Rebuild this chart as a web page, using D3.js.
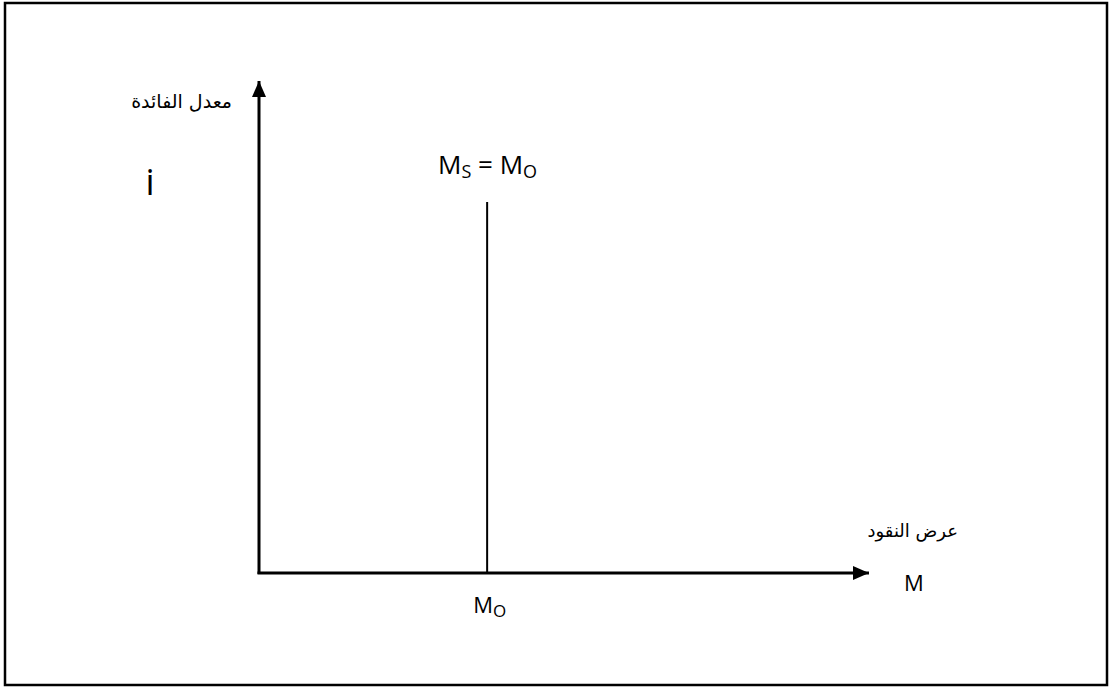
<!DOCTYPE html>
<html>
<head>
<meta charset="utf-8">
<script src="https://cdn.jsdelivr.net/npm/d3@7"></script>
<style>
  body { margin: 0; background: #fff; }
  svg { display: block; }
</style>
</head>
<body>
<svg id="chart" width="1109" height="687"></svg>
<script>
// axis extent (arbitrary units) and the vertical money supply line
var xDomain = [0, 10];
var yDomain = [0, 10];
var supplyX = [3.74];      // M0
var supplyTop = [7.54];    // height of the Ms line
var yTitle = "معدل الفائدة";
var xTitle = "عرض النقود";

var svg = d3.select("#chart");

// frame
svg.append("rect")
    .attr("x", 5).attr("y", 3)
    .attr("width", 1102).attr("height", 682)
    .attr("fill", "none")
    .attr("stroke", "#000")
    .attr("stroke-width", 2.5);

var x = d3.scaleLinear().domain(xDomain).range([259, 869]);
var y = d3.scaleLinear().domain(yDomain).range([573, 81]);

var defs = svg.append("defs");
defs.append("marker")
    .attr("id", "arrow")
    .attr("viewBox", "0 0 16 14")
    .attr("refX", 16).attr("refY", 7)
    .attr("markerWidth", 16).attr("markerHeight", 14)
    .attr("markerUnits", "userSpaceOnUse")
    .attr("orient", "auto")
    .append("path")
    .attr("d", "M0,0 L16,7 L0,14 Z")
    .attr("fill", "#000");

// y axis
svg.append("line")
    .attr("x1", x(xDomain[0])).attr("y1", y(yDomain[0]) + 1)
    .attr("x2", x(xDomain[0])).attr("y2", y(yDomain[1]))
    .attr("stroke", "#000").attr("stroke-width", 3)
    .attr("marker-end", "url(#arrow)");

// x axis
svg.append("line")
    .attr("x1", x(xDomain[0]) - 1.5).attr("y1", y(yDomain[0]))
    .attr("x2", x(xDomain[1])).attr("y2", y(yDomain[0]))
    .attr("stroke", "#000").attr("stroke-width", 3)
    .attr("marker-end", "url(#arrow)");

// money supply
svg.selectAll(".supply")
    .data(supplyX)
    .join("line")
    .attr("class", "supply")
    .attr("x1", function(d) { return x(d); })
    .attr("x2", function(d) { return x(d); })
    .attr("y1", y(0))
    .attr("y2", function(d, i) { return y(supplyTop[i]); })
    .attr("stroke", "#000")
    .attr("stroke-width", 2);

// labels
var arabic = "'DejaVu Sans', serif";
var latin = "'Open Sans', 'Noto Sans', sans-serif";

svg.append("text")
    .attr("x", 232).attr("y", 108)
    .attr("text-anchor", "end")
    .style("font-family", arabic)
    .style("font-size", "19px")
    .text(yTitle);

svg.append("text")
    .attr("x", 150).attr("y", 195)
    .attr("text-anchor", "middle")
    .style("font-family", latin)
    .style("font-size", "36px")
    .text("i");

var ms = svg.append("text")
    .attr("x", 438).attr("y", 174)
    .style("font-family", latin)
    .style("font-size", "26px")
    .style("white-space", "pre");
ms.append("tspan").text("M");
ms.append("tspan").attr("dy", 4).style("font-size", "18px").text("S");
ms.append("tspan").attr("dy", -4).text(" = M");
ms.append("tspan").attr("dy", 4).style("font-size", "18px").text("O");

svg.append("text")
    .attr("x", 958).attr("y", 537)
    .attr("text-anchor", "end")
    .style("font-family", arabic)
    .style("font-size", "18px")
    .text(xTitle);

svg.append("text")
    .attr("x", 904).attr("y", 591)
    .style("font-family", latin)
    .style("font-size", "22px")
    .text("M");

var m0 = svg.append("text")
    .attr("x", x(supplyX[0]) - 14).attr("y", 613)
    .style("font-family", latin)
    .style("font-size", "22px");
m0.append("tspan").text("M");
m0.append("tspan").attr("dy", 4).style("font-size", "17px").text("O");
</script>
</body>
</html>
